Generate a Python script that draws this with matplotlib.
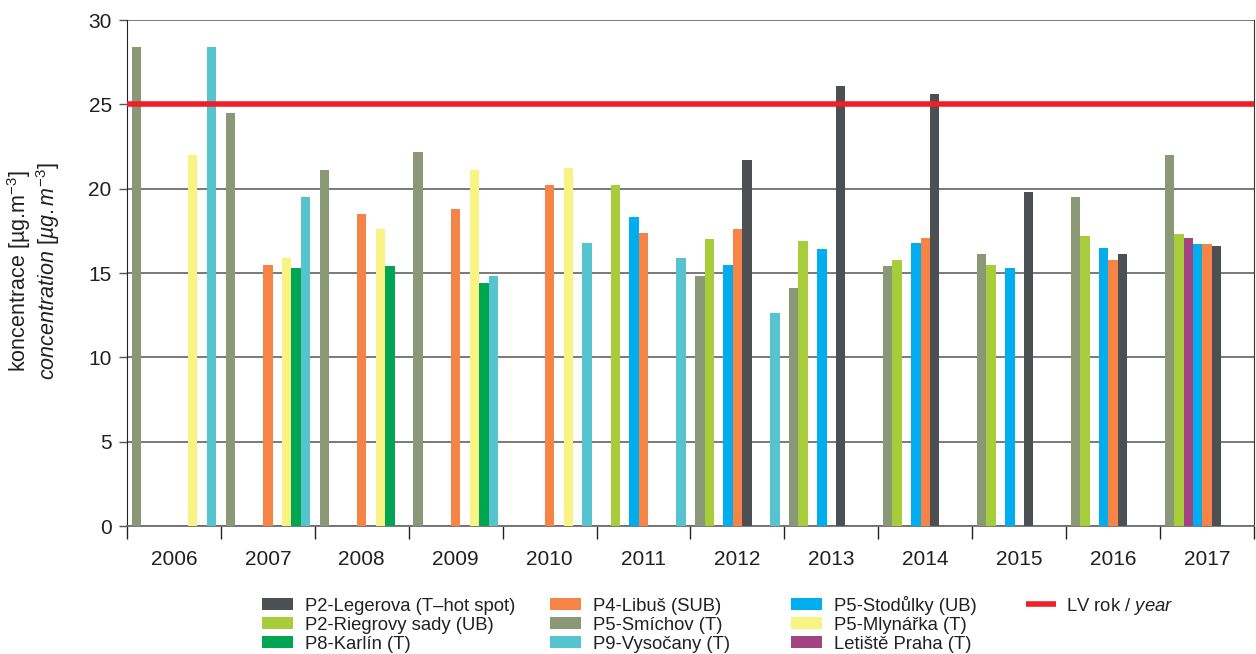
import numpy as np
import matplotlib.pyplot as plt
from matplotlib.patches import Rectangle
from matplotlib.lines import Line2D

plt.rcParams['font.family'] = ['Liberation Sans', 'DejaVu Sans']
plt.rcParams['mathtext.fontset'] = 'custom'
plt.rcParams['mathtext.rm'] = 'Liberation Sans'
plt.rcParams['mathtext.it'] = 'Liberation Sans:italic'

years = ['2006', '2007', '2008', '2009', '2010', '2011',
         '2012', '2013', '2014', '2015', '2016', '2017']
nan = np.nan

# annual means per station, NaN = not measured
smichov   = [28.4, 24.5, 21.1, 22.2, nan, nan, 14.8, 14.1, 15.4, 16.1, 19.5, 22.0]
riegrovy  = [nan, nan, nan, nan, nan, 20.2, 17.0, 16.9, 15.8, 15.5, 17.2, 17.3]
letiste   = [nan, nan, nan, nan, nan, nan, nan, nan, nan, nan, nan, 17.1]
stodulky  = [nan, nan, nan, nan, nan, 18.3, 15.5, 16.4, 16.8, 15.3, 16.5, 16.7]
libus     = [nan, 15.5, 18.5, 18.8, 20.2, 17.4, 17.6, nan, 17.1, nan, 15.8, 16.7]
legerova  = [nan, nan, nan, nan, nan, nan, 21.7, 26.1, 25.6, 19.8, 16.1, 16.6]
mlynarka  = [22.0, 15.9, 17.6, 21.1, 21.2, nan, nan, nan, nan, nan, nan, nan]
karlin    = [nan, 15.3, 15.4, 14.4, nan, nan, nan, nan, nan, nan, nan, nan]
vysocany  = [28.4, 19.5, nan, 14.8, 16.8, 15.9, 12.6, nan, nan, nan, nan, nan]

limit = 25

# order of bars inside each year group
series = [
    ('P5-Smíchov (T)', smichov, '#8a9878'),
    ('P2-Riegrovy sady (UB)', riegrovy, '#a8cd3a'),
    ('Letiště Praha (T)', letiste, '#a24481'),
    ('P5-Stodůlky (UB)', stodulky, '#00adee'),
    ('P4-Libuš (SUB)', libus, '#f58446'),
    ('P2-Legerova (T–hot spot)', legerova, '#4c5052'),
    ('P5-Mlynářka (T)', mlynarka, '#f9f384'),
    ('P8-Karlín (T)', karlin, '#00a551'),
    ('P9-Vysočany (T)', vysocany, '#56c4cf'),
]
colors = {name: col for name, _, col in series}
text_col = '#231f20'
red = '#ee1f26'

W, H = 1256, 654
fig = plt.figure(figsize=(W / 100, H / 100), dpi=100)
ax = fig.add_axes([0.1011, 0.1957, 0.8973, 0.7737])

x = np.arange(len(years))
w = 0.1
for i, (name, vals, col) in enumerate(series):
    ax.bar(x + 0.1 + i * w, vals, width=w, color=col,
           align='center', zorder=3, linewidth=0)

ax.axhline(limit, color=red, lw=4, zorder=4)

ax.set_xlim(0, len(years))
ax.set_ylim(0, 30)
ax.set_yticks(range(0, 31, 5))
ax.yaxis.grid(True, color='#6e6e6e', lw=1.3, zorder=0)
ax.set_axisbelow(True)

ax.set_xticks(np.arange(len(years) + 1))
ax.set_xticklabels([])
ax.set_xticks(x + 0.5, minor=True)
ax.set_xticklabels(years, minor=True)
ax.tick_params(axis='x', which='major', length=9, width=1, color='#222222',
               direction='out')
ax.tick_params(axis='x', which='minor', length=0, pad=17, labelsize=15,
               labelcolor=text_col)
ax.tick_params(axis='y', length=6, width=1, color='#555555', pad=5,
               labelsize=15, labelcolor=text_col)

ax.spines['top'].set_visible(False)
ax.spines['bottom'].set_color('#6e6e6e')
ax.spines['bottom'].set_linewidth(1.3)
ax.spines['left'].set_color('#222222')
ax.spines['right'].set_color('#333333')

# two-line axis title (Czech / English)
ycen = 1 - 271 / H
fig.text(19 / W, ycen, 'koncentrace [µg.m$^{-3}$]', rotation=90,
         ha='center', va='center', fontsize=15.5, color=text_col)
fig.text(48 / W, ycen, '$\\it{concentration\\ [µg.m^{-3}]}$', rotation=90,
         ha='center', va='center', fontsize=15.5, color=text_col)

# legend: three rows, four columns
rows_y = [604, 623, 642]
columns = [
    (262, ['P2-Legerova (T–hot spot)', 'P2-Riegrovy sady (UB)', 'P8-Karlín (T)']),
    (550, ['P4-Libuš (SUB)', 'P5-Smíchov (T)', 'P9-Vysočany (T)']),
    (791, ['P5-Stodůlky (UB)', 'P5-Mlynářka (T)', 'Letiště Praha (T)']),
]
hw, hh = 31, 11.5
for cx, names in columns:
    for ry, name in zip(rows_y, names):
        fig.patches.append(Rectangle((cx / W, 1 - (ry + hh / 2) / H), hw / W, hh / H,
                                     transform=fig.transFigure, facecolor=colors[name],
                                     edgecolor='none'))
        fig.text((cx + hw + 12) / W, 1 - (ry + hh / 2 + 1.5) / H, name,
                 ha='left', va='baseline', fontsize=13.3, color=text_col)

lx = 1026
fig.lines.append(Line2D([lx / W, (lx + 30) / W], [1 - rows_y[0] / H] * 2,
                        transform=fig.transFigure, color=red, lw=4,
                        solid_capstyle='butt'))
fig.text((lx + 40) / W, 1 - (rows_y[0] + hh / 2 + 1.5) / H, 'LV rok / $\\it{year}$',
         ha='left', va='baseline', fontsize=13.3, color=text_col)

fig.savefig('out.png', dpi=100)
